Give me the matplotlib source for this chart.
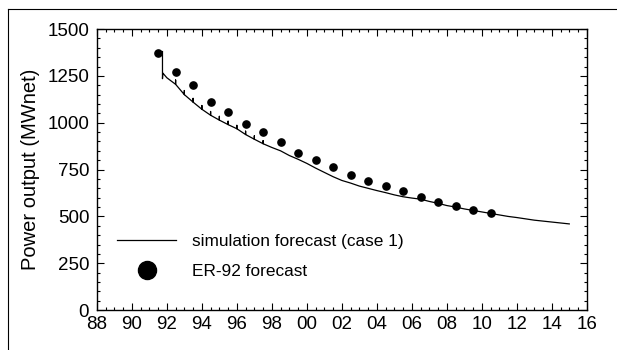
import matplotlib
matplotlib.use("Agg")
import matplotlib.pyplot as plt
from matplotlib.lines import Line2D
from matplotlib.ticker import MultipleLocator

plt.rcParams['font.family'] = ['Liberation Sans', 'DejaVu Sans']

# ER-92 forecast (year, MWnet)
er92_years = [1991.5, 1992.5, 1993.5, 1994.5, 1995.5, 1996.5, 1997.5, 1998.5,
              1999.5, 2000.5, 2001.5, 2002.5, 2003.5, 2004.5, 2005.5, 2006.5,
              2007.5, 2008.5, 2009.5, 2010.5]
er92_power = [1370, 1270, 1200, 1112, 1055, 993, 950, 895, 840, 801, 762, 721,
              689, 664, 635, 605, 578, 557, 534, 516]

# simulation forecast (case 1), including the small make-up well spikes
sim_years = [1991.75, 1991.75, 1991.77, 1992.0,
             1992.5, 1992.5, 1992.5, 1993.0, 1993.0, 1993.0,
             1993.5, 1993.5, 1993.5, 1994.0, 1994.0, 1994.0,
             1994.5, 1994.5, 1994.5, 1995.0, 1995.0, 1995.0,
             1995.5, 1995.5, 1995.5, 1996.0, 1996.0, 1996.0,
             1996.5, 1996.5, 1996.5, 1997.0, 1997.0, 1997.0,
             1997.5, 1997.5, 1997.5, 1998.0, 1998.5, 1999.0, 1999.5,
             2000.0, 2000.5, 2001.0, 2001.5, 2002.0, 2002.5, 2003.0, 2003.5,
             2004.0, 2004.5, 2005.0, 2005.5, 2006.0, 2006.5, 2007.0, 2007.5,
             2008.0, 2008.5, 2009.0, 2009.5, 2010.0, 2010.5, 2011.0, 2011.5,
             2012.0, 2012.5, 2013.0, 2013.5, 2014.0, 2014.5, 2015.0]
sim_power = [1380, 1235, 1265, 1240,
             1205, 1228, 1205, 1150, 1172, 1150,
             1110, 1130, 1110, 1072, 1092, 1072,
             1040, 1060, 1040, 1014, 1034, 1014,
             990, 1008, 990, 968, 986, 968,
             937, 955, 937, 912, 930, 912,
             888, 904, 888, 868, 850, 825, 805,
             783, 758, 735, 712, 692, 678, 662, 650,
             638, 627, 615, 605, 598, 592, 580, 570,
             558, 550, 540, 532, 524, 516, 508, 500,
             494, 487, 480, 475, 470, 465, 460]

x_ticks = list(range(1988, 2017, 2))
x_labels = ["88", "90", "92", "94", "96", "98", "00", "02", "04", "06", "08",
            "10", "12", "14", "16"]
y_ticks = [0, 250, 500, 750, 1000, 1250, 1500]

fig = plt.figure(figsize=(6.17, 3.5), dpi=100)
ax = fig.add_axes([0.157, 0.114, 0.794, 0.803])

ax.plot(sim_years, sim_power, color="black", linewidth=0.9)
ax.plot(er92_years, er92_power, "o", color="black", markersize=5.2, linestyle="none")

ax.set_xlim(1988, 2016)
ax.set_ylim(0, 1500)
ax.set_xticks(x_ticks)
ax.set_xticklabels(x_labels)
ax.set_yticks(y_ticks)
ax.xaxis.set_minor_locator(MultipleLocator(0.5))
ax.yaxis.set_minor_locator(MultipleLocator(50))
ax.tick_params(which="both", direction="in", top=True, right=True,
               labelsize=13.5, width=0.8)
ax.tick_params(axis="x", pad=4)
ax.tick_params(axis="y", pad=5.5)
ax.tick_params(which="major", length=5)
ax.tick_params(which="minor", length=2.5)
for s in ax.spines.values():
    s.set_linewidth(1.0)

ax.set_ylabel("Power output (MWnet)", fontsize=14.5, labelpad=5)

handles = [Line2D([], [], color="black", linewidth=0.9),
           Line2D([], [], marker="o", color="black", linestyle="none", markersize=13)]
ax.legend(handles, ["simulation forecast (case 1)", "ER-92 forecast"],
          loc="upper left", bbox_to_anchor=(0.028, 0.295), frameon=False,
          fontsize=12.4, handlelength=3.4, handletextpad=0.9, labelspacing=0.85,
          borderaxespad=0)

# scanned page frame
fig.add_artist(Line2D([0.013, 0.013], [0.0, 0.974], color="black", linewidth=0.8))
fig.add_artist(Line2D([0.013, 1.0], [0.974, 0.974], color="black", linewidth=0.8))

fig.savefig("out.png", dpi=100)
